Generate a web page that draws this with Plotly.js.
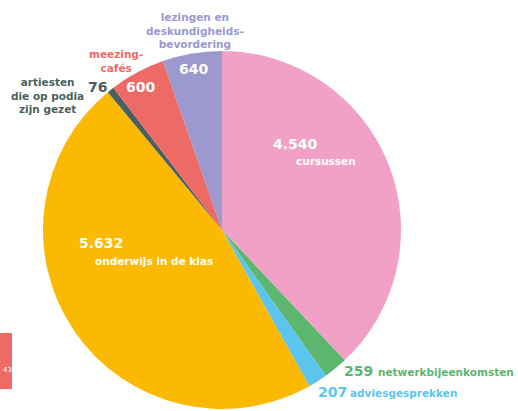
<!DOCTYPE html>
<html><head><meta charset="utf-8">
<script src="https://cdn.plot.ly/plotly-3.0.1.min.js"></script>
<style>html,body{margin:0;padding:0;background:#fff;overflow:hidden}#chart{width:518px;height:411px}</style>
</head><body><div id="chart"></div>
<script>
const categories = ["cursussen","netwerkbijeenkomsten","adviesgesprekken","onderwijs in de klas","artiesten die op podia zijn gezet","meezing-cafés","lezingen en deskundigheidsbevordering"];
const values = [4540, 259, 207, 5632, 76, 600, 640];
const valueLabels = ["4.540","259","207","5.632","76","600","640"];
const colors = ["#F0A1C5","#5DB670","#5CC5EE","#FBB901","#4C5F5E","#EE6A66","#9B99CD"];

const W = 518, H = 411;
const px = x => x / W, py = y => 1 - y / H;
const F = "'DejaVu Sans', Verdana, sans-serif";

function ann(text, x, y, color, size, weight, anchor) {
  return {text: text, x: px(x), y: py(y), xref: 'paper', yref: 'paper', showarrow: false,
    xanchor: anchor || 'center', yanchor: 'middle', align: anchor || 'center',
    font: {family: F, size: size, color: color, weight: weight || 700}};
}

const annotations = [
  ann(valueLabels[0], 295, 144, '#fff', 14, 700),
  ann(categories[0], 326, 161, '#fff', 10.5, 700),
  ann(valueLabels[3], 101, 243, '#fff', 14, 700),
  ann(categories[3], 154, 261, '#fff', 10.5, 700),
  ann(valueLabels[6], 193, 69, '#fff', 14, 700),
  ann(valueLabels[5], 140, 87, '#fff', 14, 700),
  ann(valueLabels[4], 97, 87, colors[4], 14, 700),
  ann("artiesten<br>die op podia<br>zijn gezet", 47, 96, colors[4], 10.5, 700),
  ann("meezing-<br>cafés", 116, 61, colors[5], 10.5, 700),
  ann("lezingen en<br>deskundigheids-<br>bevordering", 195, 30, colors[6], 10.5, 700),
  ann(valueLabels[1], 342, 371, colors[1], 14, 700, 'left'),
  ann(categories[1], 376, 372, colors[1], 10.5, 700, 'left'),
  ann(valueLabels[2], 316, 392, colors[2], 14, 700, 'left'),
  ann(categories[2], 348, 393, colors[2], 10.5, 700, 'left'),
  ann("43", 1, 370, '#fff', 7, 400, 'left')
];

const data = [{
  type: 'pie', labels: categories, values: values, sort: false,
  direction: 'clockwise', rotation: 0,
  marker: {colors: colors, line: {width: 0}},
  textinfo: 'none', hoverinfo: 'none', showlegend: false,
  domain: {x: [px(222 - 179), px(222 + 179)], y: [py(409), py(51)]}
}];

const layout = {
  width: W, height: H, margin: {l: 0, r: 0, t: 0, b: 0},
  paper_bgcolor: '#fff', plot_bgcolor: '#fff', showlegend: false,
  annotations: annotations,
  shapes: [{type: 'rect', xref: 'paper', yref: 'paper', x0: px(0), x1: px(12), y0: py(389), y1: py(333),
    fillcolor: '#EE6A66', line: {width: 0}, layer: 'below'}]
};
Plotly.newPlot('chart', data, layout, {staticPlot: true});
</script></body></html>
